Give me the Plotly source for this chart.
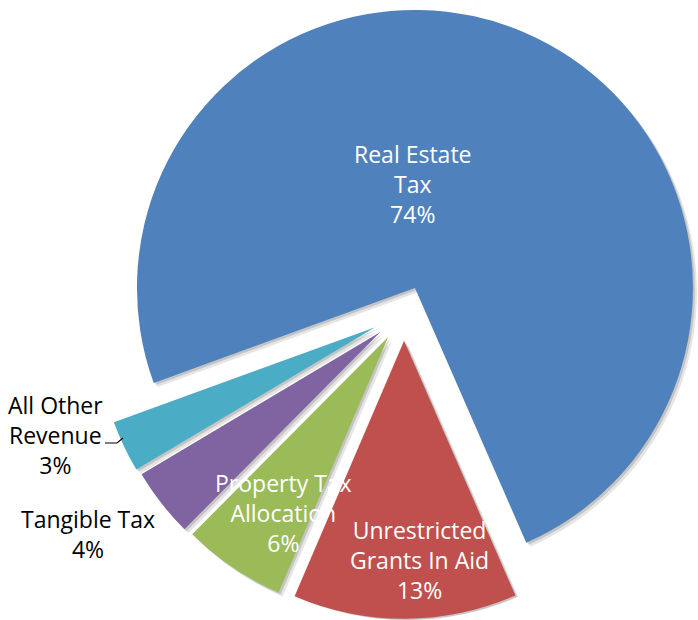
import math
import plotly.graph_objects as go

# ---------------- data ----------------
labels = ["Real Estate Tax", "Unrestricted Grants In Aid", "Property Tax Allocation",
          "Tangible Tax", "All Other Revenue"]
values = [74, 13, 6, 4, 3]
label_text = ["Real Estate<br>Tax<br>74%",
              "Unrestricted<br>Grants In Aid<br>13%",
              "Property Tax<br>Allocation<br>6%",
              "Tangible Tax<br>4%",
              "All Other<br>Revenue<br>3%"]

# ---------------- style / layout ----------------
colors = ["#4F81BD", "#C0504D", "#9BBB59", "#8064A2", "#4BACC6"]
explode = [0.100, 0.098, 0.102, 0.108, 0.115]   # fraction of radius
label_pos = [(413, 184), (419, 560), (283, 513), (88, 534), (55, 435)]  # px
label_color = ["white", "white", "white", "black", "black"]

W, H = 698, 620
CX, CY = 404, 313.5   # pie centre (px)
R = 278               # pie radius (px)
ROT = 250             # start angle of first slice, clockwise from 12 o'clock
FONT = "Open Sans"
FS = 23

total = sum(values)


def domain_for(vx, vy):
    half = min(R, vx, W - vx, vy, H - vy)
    return dict(x=[(vx - half) / W, (vx + half) / W],
                y=[1 - (vy + half) / H, 1 - (vy - half) / H])


fig = go.Figure()


def slice_traces(offset, color_fn, hover):
    cum = 0
    out = []
    for i, v in enumerate(values):
        mid = math.radians(ROT + 360.0 * (cum + v / 2.0) / total)
        cum += v
        vx = CX + explode[i] * R * math.sin(mid) + offset
        vy = CY - explode[i] * R * math.cos(mid) + offset
        cols = [color_fn(i) if j == i else "rgba(0,0,0,0)" for j in range(len(values))]
        out.append(go.Pie(
            labels=labels, values=values, sort=False, direction="clockwise",
            rotation=ROT, marker=dict(colors=cols, line=dict(width=0)),
            textinfo="none", domain=domain_for(vx, vy), showlegend=False,
            hoverinfo="label+percent" if hover else "skip",
        ))
    return out


# soft drop shadows (drawn below)
for t in slice_traces(4, lambda i: "rgba(0,0,0,0.10)", False):
    fig.add_trace(t)
for t in slice_traces(2, lambda i: "rgba(0,0,0,0.14)", False):
    fig.add_trace(t)
# the slices themselves
for t in slice_traces(0, lambda i: colors[i], True):
    fig.add_trace(t)

annotations = []
for txt, (px, py), c in zip(label_text, label_pos, label_color):
    annotations.append(dict(
        text=txt, x=px / W, y=1 - py / H, xref="paper", yref="paper",
        xanchor="center", yanchor="middle", showarrow=False, align="center",
        font=dict(family=FONT, size=FS, color=c),
    ))

# leader line for "All Other Revenue"
pts = [(105, 443), (117, 443), (123, 438)]
path = "M " + " L ".join(f"{x / W:.5f},{1 - y / H:.5f}" for x, y in pts)

fig.update_layout(
    width=W, height=H,
    margin=dict(l=0, r=0, t=0, b=0),
    paper_bgcolor="white", plot_bgcolor="white",
    showlegend=False,
    annotations=annotations,
    shapes=[dict(type="path", path=path, xref="paper", yref="paper",
                 line=dict(color="black", width=1.2))],
)

fig.write_html("out.html",
               config={"displayModeBar": False},
               post_script="document.body.style.margin='0';document.body.style.overflow='hidden';")
